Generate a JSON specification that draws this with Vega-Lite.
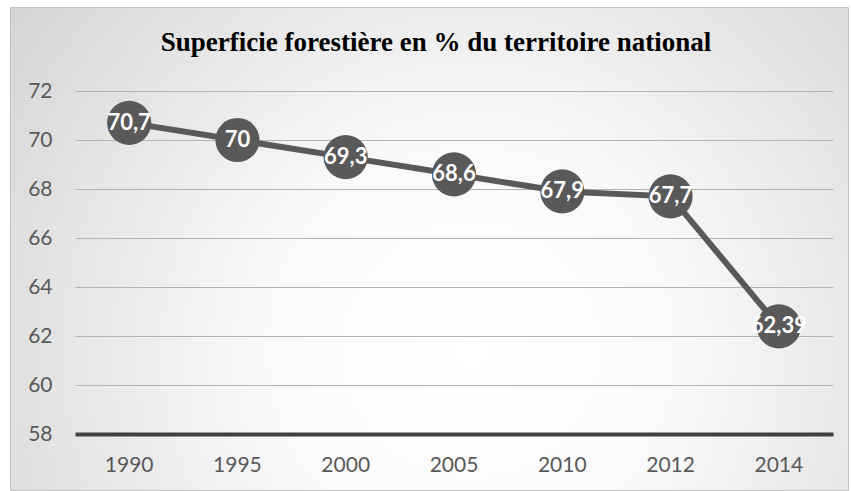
{
  "$schema": "https://vega.github.io/schema/vega-lite/v6.json",
  "width": 838,
  "height": 483,
  "autosize": {"type": "none"},
  "padding": {"left": 10, "top": 7, "right": 3, "bottom": 1},
  "background": "white",
  "config": {
    "locale": {"number": {"decimal": ",", "thousands": " ", "grouping": [3], "currency": ["", " €"]}},
    "view": {
      "fill": {
        "gradient": "radial",
        "x1": 0.55, "y1": 0.62, "r1": 0,
        "x2": 0.55, "y2": 0.62, "r2": 0.85,
        "stops": [
          {"offset": 0, "color": "#ffffff"},
          {"offset": 0.3, "color": "#f9f9f9"},
          {"offset": 1, "color": "#c6c6c6"}
        ]
      },
      "stroke": "#c4c4c4",
      "strokeWidth": 1
    }
  },
  "title": {
    "text": "Superficie forestière en % du territoire national",
    "font": "Liberation Serif",
    "fontSize": 27,
    "fontWeight": "bold",
    "color": "#000000",
    "anchor": "middle",
    "frame": "group",
    "baseline": "alphabetic",
    "offset": -71,
    "dx": 7
  },
  "data": {
    "values": [
      {"year": "1990", "value": 70.7},
      {"year": "1995", "value": 70},
      {"year": "2000", "value": 69.3},
      {"year": "2005", "value": 68.6},
      {"year": "2010", "value": 67.9},
      {"year": "2012", "value": 67.7},
      {"year": "2014", "value": 62.39}
    ]
  },
  "encoding": {
    "x": {
      "field": "year",
      "type": "ordinal",
      "sort": null,
      "scale": {"type": "band", "range": [65, 823], "paddingInner": 0, "paddingOuter": 0},
      "axis": {
        "title": null,
        "orient": "bottom",
        "offset": -56,
        "domain": true,
        "domainColor": "#404040",
        "domainWidth": 4,
        "ticks": false,
        "tickSize": 0,
        "grid": false,
        "labelFont": "Lato",
        "labelFontSize": 21,
        "labelColor": "#595959",
        "labelPadding": 20,
        "labelAngle": 0
      }
    },
    "y": {
      "field": "value",
      "type": "quantitative",
      "scale": {"domain": [58, 72], "range": [427, 84], "nice": false, "zero": false},
      "axis": {
        "title": null,
        "orient": "left",
        "offset": -65,
        "values": [58, 60, 62, 64, 66, 68, 70, 72],
        "domain": false,
        "ticks": false,
        "tickSize": 0,
        "grid": true,
        "gridColor": "#b3b3b3",
        "gridWidth": 1,
        "labelFont": "Lato",
        "labelFontSize": 21,
        "labelColor": "#595959",
        "labelPadding": 23,
        "format": "d"
      }
    }
  },
  "layer": [
    {"mark": {"type": "line", "color": "#595959", "strokeWidth": 6}},
    {"mark": {"type": "point", "filled": true, "color": "#595959", "opacity": 1, "size": 1950, "shape": "circle"}},
    {
      "mark": {"type": "text", "color": "white", "font": "Lato", "fontSize": 22, "fontWeight": "bold", "align": "center", "baseline": "middle"},
      "encoding": {"text": {"field": "value", "type": "quantitative", "format": "~f"}}
    }
  ]
}
